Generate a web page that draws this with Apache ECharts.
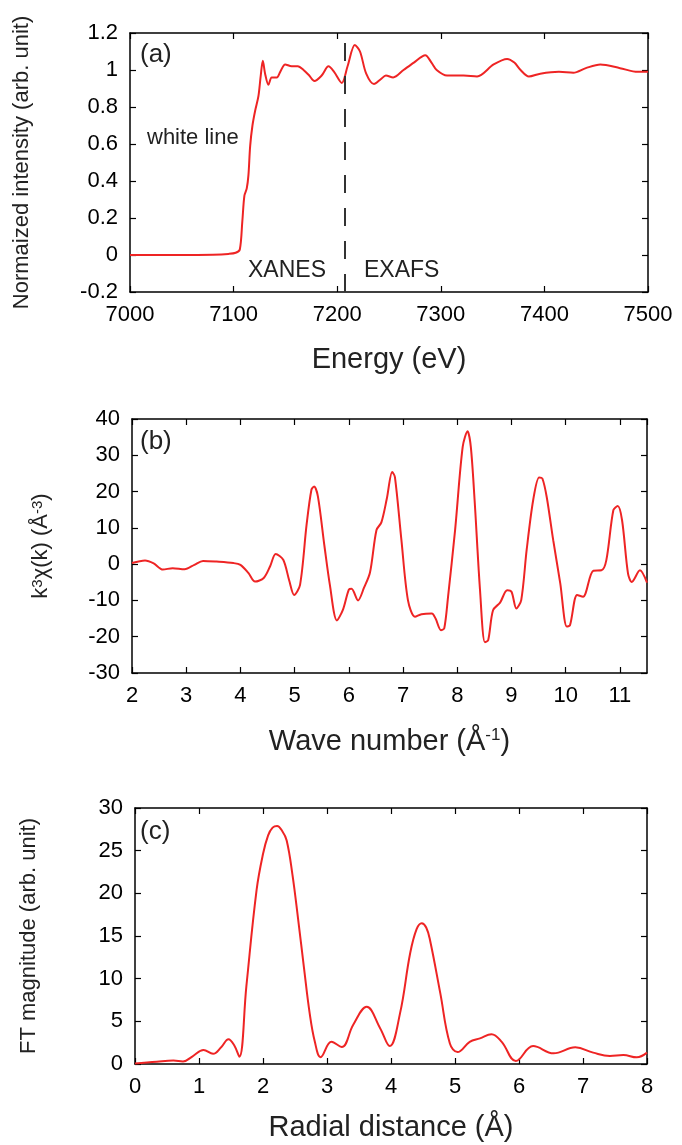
<!DOCTYPE html>
<html>
<head>
<meta charset="utf-8">
<script src="https://cdn.jsdelivr.net/npm/echarts@6/dist/echarts.min.js"></script>
<style>
html,body{margin:0;padding:0;background:#fff;}
#chart{width:682px;height:1145px;}
</style>
</head>
<body>
<div id="chart"></div>
<script>
// ---------- Panel (a): XANES / EXAFS spectrum ----------
var energyA = [7000, 7050, 7080, 7095, 7102, 7106, 7108.4, 7110.4, 7112.7, 7114.3, 7116, 7118.2, 7120.8, 7124, 7126.2, 7128.2, 7130.4, 7133.6, 7136.8, 7141.7, 7145, 7149.8, 7156, 7162, 7167.5, 7173, 7178, 7185, 7191.6, 7197, 7204.5, 7210, 7217, 7222, 7228, 7235.5, 7242, 7247, 7254, 7264, 7274, 7285, 7291, 7296, 7306, 7322, 7335, 7351, 7364, 7371, 7377, 7385, 7396, 7414, 7428, 7440, 7454, 7473, 7490, 7500];
var intensityA = [0, 0, 0.002, 0.006, 0.012, 0.03, 0.18, 0.32, 0.36, 0.43, 0.59, 0.70, 0.78, 0.86, 0.97, 1.05, 0.98, 0.92, 0.96, 0.96, 0.99, 1.03, 1.02, 1.02, 1.0, 0.97, 0.94, 0.97, 1.02, 0.99, 0.93, 1.02, 1.135, 1.1, 0.98, 0.924, 0.95, 0.97, 0.96, 1.0, 1.04, 1.08, 1.04, 1.0, 0.97, 0.97, 0.965, 1.03, 1.06, 1.04, 1.0, 0.965, 0.98, 0.99, 0.985, 1.01, 1.03, 1.01, 0.99, 0.99];
var edgeDivider = 7207;

// ---------- Panel (b): k^3 chi(k) ----------
var waveK = [2.0, 2.24, 2.4, 2.57, 2.75, 2.97, 3.15, 3.31, 3.56, 3.87, 4.0, 4.15, 4.27, 4.43, 4.55, 4.65, 4.79, 4.9, 4.99, 5.1, 5.22, 5.31, 5.36, 5.43, 5.55, 5.65, 5.78, 5.89, 6.0, 6.05, 6.17, 6.28, 6.39, 6.51, 6.6, 6.7, 6.8, 6.85, 6.97, 7.09, 7.22, 7.34, 7.53, 7.6, 7.7, 7.76, 7.83, 7.96, 8.1, 8.19, 8.25, 8.32, 8.42, 8.51, 8.57, 8.66, 8.79, 8.92, 9.0, 9.09, 9.18, 9.28, 9.4, 9.51, 9.57, 9.65, 9.77, 9.9, 10.02, 10.08, 10.21, 10.32, 10.51, 10.66, 10.75, 10.88, 10.96, 11.04, 11.15, 11.22, 11.37, 11.5];
var chiK = [0.3, 1.0, 0.2, -1.5, -1.1, -1.4, -0.2, 0.9, 0.7, 0.3, -0.2, -2.5, -4.8, -3.8, -0.5, 2.8, 1.2, -4.5, -8.5, -5.7, 10.8, 20.5, 21.4, 18.6, 5, -5.7, -15.5, -12.6, -7.0, -6.8, -10.0, -6.5, -2.3, 9.4, 11.5, 18, 25.4, 24, 6.6, -9.9, -14.5, -13.8, -13.6, -15, -18.2, -17.7, -9, 9.4, 32.3, 36.6, 32.3, 17.6, -7.2, -21.5, -21, -12.7, -10.6, -7.2, -7.6, -12.2, -9.9, 3.9, 17.6, 23.9, 23.6, 18.5, 6.6, -5.3, -17.2, -16.8, -8.5, -9.0, -1.8, -1.7, 1.1, 14.9, 16.0, 12.1, -2.6, -4.9, -1.7, -5.1];

// ---------- Panel (c): FT magnitude ----------
var radialR = [0, 0.34, 0.6, 0.75, 0.9, 1.07, 1.22, 1.35, 1.46, 1.55, 1.63, 1.74, 1.9, 2.0, 2.08, 2.15, 2.22, 2.3, 2.37, 2.46, 2.55, 2.64, 2.73, 2.81, 2.9, 3.07, 3.23, 3.41, 3.62, 3.83, 3.98, 4.14, 4.3, 4.4, 4.48, 4.55, 4.61, 4.77, 4.92, 5.04, 5.23, 5.39, 5.57, 5.73, 5.95, 6.22, 6.54, 6.88, 7.16, 7.42, 7.63, 7.84, 8.0];
var ftMag = [0.05, 0.27, 0.4, 0.3, 0.9, 1.64, 1.2, 2.0, 2.9, 2.2, 0.86, 9.1, 20.4, 24.6, 26.8, 27.7, 27.9, 27.3, 26.2, 22.2, 16.9, 11.3, 5.9, 2.6, 0.8, 2.6, 2.0, 4.6, 6.7, 4.2, 2.1, 5.9, 13.0, 15.8, 16.5, 16.0, 14.5, 8.3, 2.4, 1.4, 2.6, 3.0, 3.5, 2.6, 0.35, 2.1, 1.25, 1.95, 1.33, 0.94, 1.05, 0.78, 1.33];

// ---------- Texts ----------
var panelLabels = ['(a)', '(b)', '(c)'];
var xNames = ['Energy (eV)', 'Wave number (Å{sup|-1})', 'Radial distance (Å)'];
var yNames = ['Normaized intensity (arb. unit)', 'k{sup|3}χ(k) (Å{sup|-3})', 'FT magnitude (arb. unit)'];
var regionLabels = ['white line', 'XANES', 'EXAFS'];

function zip(a, b) { return a.map(function (v, i) { return [v, b[i]]; }); }

var FONT = 'Liberation Sans, Arial, Helvetica, sans-serif';
var RED = '#ee2424';
var axisLineStyle = { color: '#000', width: 1.5 };

var grids = [
  { left: 130, top: 33, width: 518, height: 259 },
  { left: 132, top: 419, width: 515, height: 254 },
  { left: 135, top: 808, width: 512, height: 256 }
];
var xCfg = [
  { min: 7000, max: 7500, interval: 100, nameGap: 53 },
  { min: 2, max: 11.5, interval: 1, nameGap: 54 },
  { min: 0, max: 8, interval: 1, nameGap: 49 }
];
var yCfg = [
  { min: -0.2, max: 1.2, interval: 0.2, nameGap: 97 },
  { min: -30, max: 40, interval: 10, nameGap: 80 },
  { min: 0, max: 30, interval: 5, nameGap: 95 }
];

var xAxes = [], yAxes = [];
var richSup = { sup: { fontSize: 17, verticalAlign: 'top', fontFamily: FONT, color: '#222' } };
var richSupY = { sup: { fontSize: 15, verticalAlign: 'top', fontFamily: FONT, color: '#222' } };
function plainNum(v) { return String(Math.round(v * 1000) / 1000); }
for (var g = 0; g < 3; g++) {
  var xc = xCfg[g], yc = yCfg[g];
  xAxes.push({
    type: 'value', gridIndex: g, position: 'bottom', min: xc.min, max: xc.max, interval: xc.interval,
    axisLine: { show: true, onZero: false, lineStyle: axisLineStyle },
    axisTick: { show: true, inside: true, length: 6, lineStyle: { color: '#000', width: 1.2 } },
    axisLabel: { show: true, fontSize: 22, color: '#000', fontFamily: FONT, margin: 12, showMaxLabel: g !== 1, formatter: plainNum },
    splitLine: { show: false },
    name: xNames[g], nameLocation: 'middle', nameGap: xc.nameGap,
    nameTextStyle: { fontSize: 29, color: '#222', fontFamily: FONT, rich: richSup }
  });
  xAxes.push({
    type: 'value', gridIndex: g, position: 'top', min: xc.min, max: xc.max, interval: xc.interval,
    axisLine: { show: true, onZero: false, lineStyle: axisLineStyle },
    axisTick: { show: true, inside: true, length: 6, lineStyle: { color: '#000', width: 1.2 } },
    axisLabel: { show: false }, splitLine: { show: false }
  });
  yAxes.push({
    type: 'value', gridIndex: g, position: 'left', min: yc.min, max: yc.max, interval: yc.interval,
    axisLine: { show: true, onZero: false, lineStyle: axisLineStyle },
    axisTick: { show: true, inside: true, length: 6, lineStyle: { color: '#000', width: 1.2 } },
    axisLabel: { show: true, fontSize: 22, color: '#000', fontFamily: FONT, margin: 12, formatter: plainNum },
    splitLine: { show: false },
    name: yNames[g], nameLocation: 'middle', nameGap: yc.nameGap,
    nameTextStyle: { fontSize: 22, color: '#222', fontFamily: FONT, rich: richSupY }
  });
  yAxes.push({
    type: 'value', gridIndex: g, position: 'right', min: yc.min, max: yc.max, interval: yc.interval,
    axisLine: { show: true, onZero: false, lineStyle: axisLineStyle },
    axisTick: { show: true, inside: true, length: 6, lineStyle: { color: '#000', width: 1.2 } },
    axisLabel: { show: false }, splitLine: { show: false }
  });
}

var lineBase = { type: 'line', showSymbol: false, symbol: 'none', lineStyle: { color: RED, width: 2 }, itemStyle: { color: RED }, animation: false };

var series = [
  Object.assign({}, lineBase, {
    xAxisIndex: 0, yAxisIndex: 0, data: zip(energyA, intensityA), smooth: 0.3,
    markLine: {
      silent: true, symbol: 'none', animation: false,
      label: { show: false },
      lineStyle: { type: [18, 15], color: '#333', width: 2 },
      data: [{ xAxis: edgeDivider }]
    }
  }),
  Object.assign({}, lineBase, { xAxisIndex: 2, yAxisIndex: 2, data: zip(waveK, chiK), smooth: 0.3 }),
  Object.assign({}, lineBase, { xAxisIndex: 4, yAxisIndex: 4, data: zip(radialR, ftMag), smooth: 0.4 })
];

function txt(x, y, s, size) {
  return { type: 'text', left: x, top: y, style: { text: s, font: size + 'px ' + FONT, fill: '#222' } };
}

var option = {
  backgroundColor: '#fff',
  animation: false,
  grid: grids,
  xAxis: xAxes,
  yAxis: yAxes,
  series: series,
  graphic: [
    txt(140, 42, panelLabels[0], 26),
    txt(140, 429, panelLabels[1], 26),
    txt(140, 819, panelLabels[2], 26),
    txt(147, 127, regionLabels[0], 22),
    txt(248, 259, regionLabels[1], 23),
    txt(364, 259, regionLabels[2], 23)
  ]
};

var chart = echarts.init(document.getElementById('chart'), null, { renderer: 'canvas' });
chart.setOption(option);
</script>
</body>
</html>
